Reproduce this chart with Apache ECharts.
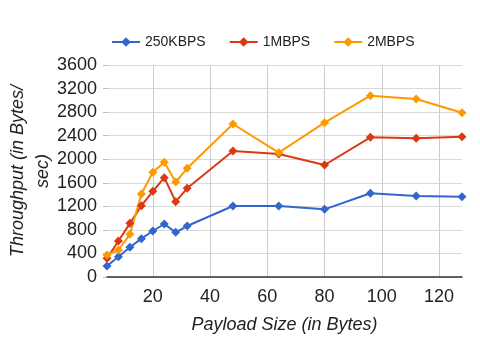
<!DOCTYPE html>
<html>
<head>
<meta charset="utf-8">
<script src="https://cdn.jsdelivr.net/npm/echarts@6/dist/echarts.min.js"></script>
<style>
  html, body { margin: 0; padding: 0; background: #fff; }
  #chart { width: 480px; height: 342px; }
</style>
</head>
<body>
<div id="chart"></div>
<script>
// payload sizes (bytes)
var payload = [4, 8, 12, 16, 20, 24, 28, 32, 48, 64, 80, 96, 112, 128];
// throughput (bytes/sec) per data rate
var kbps250 = [187, 345, 504, 651, 781, 900, 758, 866, 1206, 1206, 1149, 1421, 1375, 1364];
var mbps1 = [317, 611, 911, 1211, 1455, 1687, 1279, 1506, 2139, 2090, 1902, 2372, 2355, 2383];
var mbps2 = [374, 458, 725, 1409, 1778, 1948, 1613, 1846, 2598, 2111, 2620, 3079, 3023, 2790];
var seriesNames = ["250KBPS", "1MBPS", "2MBPS"];
var colors = ["#3366cc", "#dc3912", "#ff9900"];

var font = "Arial, 'Liberation Sans', sans-serif";

function pairs(xs, ys) {
  return xs.map(function (x, i) { return [x, ys[i]]; });
}

function makeSeries(name, ys, color) {
  return {
    name: name,
    type: "line",
    data: pairs(payload, ys),
    symbol: "diamond",
    symbolSize: 9,
    color: color,
    lineStyle: { width: 2 },
    emphasis: { disabled: true }
  };
}

var chart = echarts.init(document.getElementById("chart"));
var option = {
  animation: false,
  textStyle: { fontFamily: font },
  legend: {
    left: 106,
    top: 30,
    itemWidth: 28,
    itemHeight: 12,
    itemGap: 23,
    textStyle: { fontFamily: font, fontSize: 14, color: "#222" },
    data: seriesNames
  },
  grid: { left: 107, right: 18, top: 65, bottom: 65, containLabel: false, outerBoundsMode: "none" },
  xAxis: {
    type: "value",
    min: 4,
    max: 128,
    name: "Payload Size (in Bytes)",
    nameLocation: "middle",
    nameGap: 39,
    nameMoveOverlap: false,
    nameTextStyle: { fontFamily: font, fontSize: 18, fontStyle: "italic", color: "#222" },
    axisLine: { show: true, lineStyle: { color: "#333", width: 1.5 } },
    axisTick: { show: false },
    axisLabel: {
      fontSize: 18,
      color: "#222",
      margin: 11,
      formatter: function (v) { return v % 20 === 0 ? String(v) : ""; }
    },
    splitLine: {
      show: true,
      showMinLine: false,
      showMaxLine: false,
      lineStyle: { color: "#cccccc" }
    }
  },
  yAxis: {
    type: "value",
    min: 0,
    max: 3600,
    interval: 400,
    name: "Throughput (in Bytes/\nsec)",
    nameLocation: "middle",
    nameRotate: 90,
    nameGap: 52,
    nameMoveOverlap: false,
    nameTextStyle: { fontFamily: font, fontSize: 18, fontStyle: "italic", color: "#222", lineHeight: 25 },
    axisLine: { show: false },
    axisTick: { show: true, length: 4, lineStyle: { color: "#bbb" } },
    axisLabel: {
      fontSize: 18,
      color: "#222",
      margin: 10,
      formatter: function (v) { return String(v); }
    },
    splitLine: { show: true, lineStyle: { color: "#d9d9d9" } }
  },
  series: [
    makeSeries(seriesNames[0], kbps250, colors[0]),
    makeSeries(seriesNames[1], mbps1, colors[1]),
    makeSeries(seriesNames[2], mbps2, colors[2])
  ]
};
chart.setOption(option);
</script>
</body>
</html>
